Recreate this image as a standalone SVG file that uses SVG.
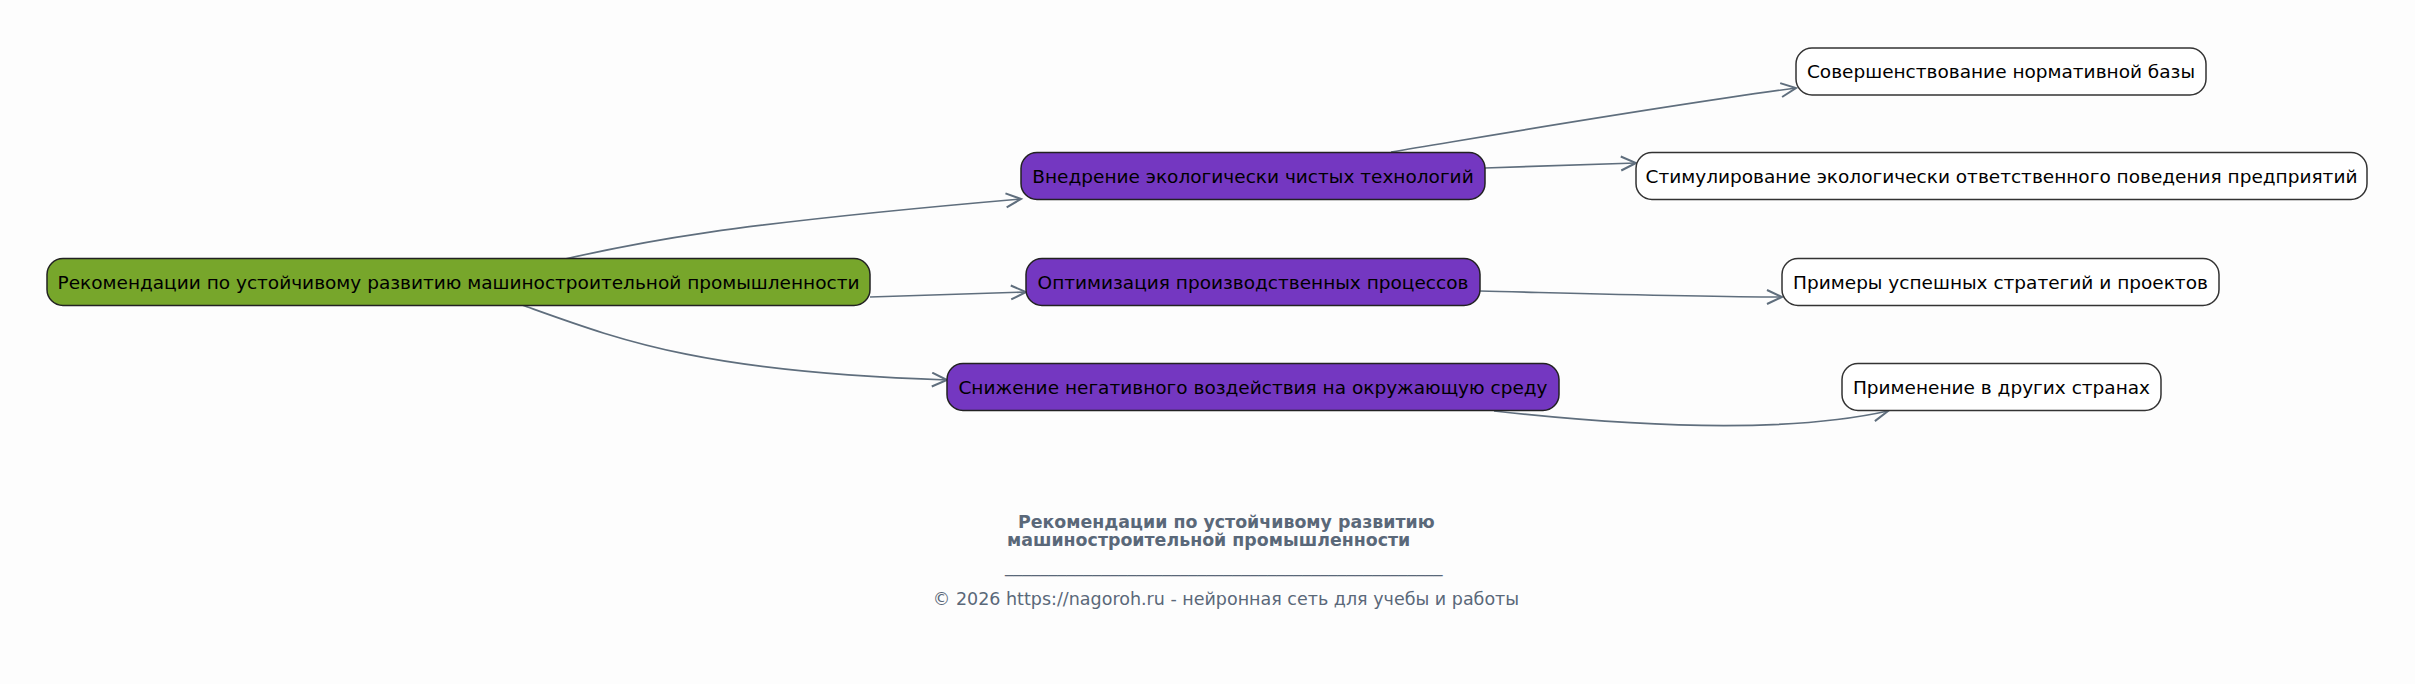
<svg xmlns="http://www.w3.org/2000/svg" width="2415" height="684" viewBox="0 0 2415 684">
<style>
.bg{fill:#fdfdfd}
.node rect{stroke:#222;stroke-width:1.5}
.root rect{fill:#77a62b}
.mid rect{fill:#7437c1}
.leaf rect{fill:#ffffff;stroke:#333}
.node text{font-family:"DejaVu Sans",sans-serif;font-size:18.5px;fill:#000;text-anchor:middle}
.edges path{fill:none;stroke:#5f6e7d;stroke-width:1.7}
.title{font-family:"DejaVu Sans",sans-serif;font-size:17.4px;font-weight:bold;fill:#5a6879}
.foot{font-family:"DejaVu Sans",sans-serif;font-size:17.5px;fill:#5a6879}
</style>
<defs>
<marker id="arr" markerWidth="20" markerHeight="20" refX="17" refY="8" orient="auto" markerUnits="userSpaceOnUse">
<path d="M2,1 L17,8 L2,15" fill="none" stroke="#5f6e7d" stroke-width="2"/>
</marker>
</defs>
<rect class="bg" x="0" y="0" width="2415" height="684"/>
<g id="connectors" class="edges">
<path d="M565,259 C640,242 720,225 1021,199" marker-end="url(#arr)"/>
<path d="M870,297 L1026,292" marker-end="url(#arr)"/>
<path d="M522,305 C620,340 700,372 947,380" marker-end="url(#arr)"/>
<path d="M1391,152 C1500,134 1650,108 1796,88" marker-end="url(#arr)"/>
<path d="M1485,168 L1636,163" marker-end="url(#arr)"/>
<path d="M1480,291 C1600,294 1700,297 1782,297" marker-end="url(#arr)"/>
<path d="M1494,411 C1620,425 1780,435 1888,411" marker-end="url(#arr)"/>
</g>
<g id="root" class="node root">
<rect x="47" y="258.5" width="823" height="47" rx="16"/>
<text x="458.5" y="288.5">Рекомендации по устойчивому развитию машиностроительной промышленности</text>
</g>
<g id="n1" class="node mid">
<rect x="1021" y="152.5" width="464" height="47" rx="16"/>
<text x="1253" y="182.5">Внедрение экологически чистых технологий</text>
</g>
<g id="n2" class="node mid">
<rect x="1026" y="258.5" width="454" height="47" rx="16"/>
<text x="1253" y="288.5">Оптимизация производственных процессов</text>
</g>
<g id="n3" class="node mid">
<rect x="947" y="363.5" width="612" height="47" rx="16"/>
<text x="1253" y="393.5">Снижение негативного воздействия на окружающую среду</text>
</g>
<g id="l1" class="node leaf">
<rect x="1796" y="48" width="410" height="47" rx="16"/>
<text x="2001" y="78">Совершенствование нормативной базы</text>
</g>
<g id="l2" class="node leaf">
<rect x="1636" y="152.5" width="731" height="47" rx="16"/>
<text x="2001.5" y="182.5">Стимулирование экологически ответственного поведения предприятий</text>
</g>
<g id="l3" class="node leaf">
<rect x="1782" y="258.5" width="437" height="47" rx="16"/>
<text x="2000.5" y="288.5">Примеры успешных стратегий и проектов</text>
</g>
<g id="l4" class="node leaf">
<rect x="1842" y="363.5" width="319" height="47" rx="16"/>
<text x="2001.5" y="393.5">Применение в других странах</text>
</g>
<g id="caption">
<text class="title" x="1018" y="528">Рекомендации по устойчивому развитию</text>
<text class="title" x="1007" y="546">машиностроительной промышленности</text>
<text class="foot" x="1005" y="572">__________________________________________________</text>
<text class="foot" x="1226" y="605" text-anchor="middle">© 2026 https://nagoroh.ru - нейронная сеть для учебы и работы</text>
</g>
</svg>
